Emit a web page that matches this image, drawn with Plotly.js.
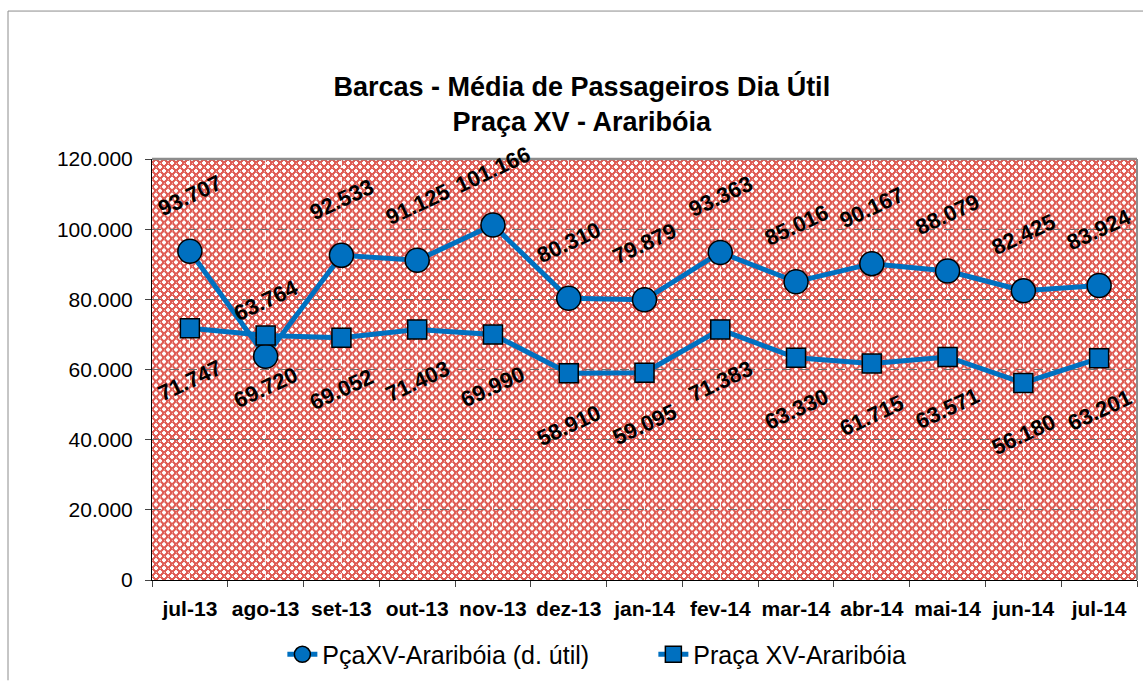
<!DOCTYPE html>
<html>
<head>
<meta charset="utf-8">
<script src="https://cdn.plot.ly/plotly-3.0.1.min.js"></script>
<style>html,body{margin:0;padding:0;background:#fff;overflow:hidden;}#chart{width:1143px;height:684px;}</style>
</head>
<body>
<div id="chart"></div>
<script>
// ---- data ----
const months = ['jul-13','ago-13','set-13','out-13','nov-13','dez-13','jan-14','fev-14','mar-14','abr-14','mai-14','jun-14','jul-14'];
const diaUtil = [93707, 63764, 92533, 91125, 101166, 80310, 79879, 93363, 85016, 90167, 88079, 82425, 83924];
const pracaXV = [71747, 69720, 69052, 71403, 69990, 58910, 59095, 71383, 63330, 61715, 63571, 56180, 63201];
const yTicks = [0, 20000, 40000, 60000, 80000, 100000, 120000];
const seriesNames = ['PçaXV-Araribóia (d. útil)', 'Praça XV-Araribóia'];

// ---- style ----
const FONT = "Arial, 'Liberation Sans', sans-serif";
const BLUE = 'rgb(0,112,192)';
const W = 1143, H = 684;
const M = {l:152, r:6, t:159, b:101};
const PW = W - M.l - M.r, PH = H - M.t - M.b;

function fmt(v){ return String(v).replace(/\B(?=(\d{3})+(?!\d))/g, '.'); }

// patterned plot background
const plus = (cx, cy) => `M${cx-1} ${cy-2}h2v4h-2zM${cx-2} ${cy-1}h4v2h-4z`;
const svg = `<svg xmlns="http://www.w3.org/2000/svg" width="${PW}" height="${PH}" shape-rendering="crispEdges">
<defs><pattern id="p" width="8" height="8" patternUnits="userSpaceOnUse">
<rect width="8" height="8" fill="#df5c54"/>
<path d="${plus(4,4)}${plus(0,0)}${plus(8,0)}${plus(0,8)}${plus(8,8)}" fill="#ffffff"/>
<path d="M4 0h1v1h-1zM0 4h1v1h-1z" fill="#f2b8b3"/>
</pattern></defs>
<rect width="${PW}" height="${PH}" fill="url(#p)"/></svg>`;
const bgSrc = 'data:image/svg+xml;charset=utf-8,' + encodeURIComponent(svg);

const traces = [
  {
    x: months, y: diaUtil, name: seriesNames[0], type: 'scatter', mode: 'lines+markers',
    line: {color: BLUE, width: 5},
    marker: {symbol: 'circle', size: 24, color: BLUE, line: {color: '#000', width: 1.5}},
    hoverinfo: 'skip'
  },
  {
    x: months, y: pracaXV, name: seriesNames[1], type: 'scatter', mode: 'lines+markers',
    line: {color: BLUE, width: 5},
    marker: {symbol: 'square', size: 19, color: BLUE, line: {color: '#000', width: 1.5}},
    hoverinfo: 'skip'
  },
  { // carrier for the centred vertical grid on xaxis2
    x: months, y: pracaXV, xaxis: 'x2', type: 'scatter', mode: 'lines',
    line: {width: 0}, opacity: 0, showlegend: false, hoverinfo: 'skip'
  }
];

const labelFont = {family: FONT, size: 22, color: '#000', weight: 'bold'};
const annotations = [];
months.forEach((m, i) => {
  annotations.push({x: m, y: diaUtil[i], xref: 'x', yref: 'y', text: fmt(diaUtil[i]),
    showarrow: false, textangle: -25, yshift: 56, font: labelFont});
  annotations.push({x: m, y: pracaXV[i], xref: 'x', yref: 'y', text: fmt(pracaXV[i]),
    showarrow: false, textangle: -25, yshift: -52, font: labelFont});
});

const layout = {
  width: W, height: H,
  margin: {l: M.l, r: M.r, t: M.t, b: M.b, pad: 0},
  paper_bgcolor: '#ffffff',
  plot_bgcolor: 'rgba(0,0,0,0)',
  separators: ',.',
  font: {family: FONT, color: '#000'},
  title: {
    text: 'Barcas - Média de Passageiros Dia Útil<br>Praça XV - Araribóia',
    font: {family: FONT, size: 27, color: '#000', weight: 'bold'},
    x: 0.509, xanchor: 'center', xref: 'container',
    y: 1 - 96/684, yanchor: 'middle', yref: 'container'
  },
  xaxis: {
    type: 'category', categoryorder: 'array', categoryarray: months,
    range: [-0.5, 12.5], fixedrange: true, tickangle: 0,
    tickson: 'boundaries', ticks: 'outside', ticklen: 6, tickcolor: '#444', tickwidth: 1,
    showline: true, linecolor: '#000', linewidth: 1,
    showgrid: false, zeroline: false,
    tickfont: {family: FONT, size: 21, color: '#000', weight: 'bold'},
    ticklabelstandoff: 10
  },
  xaxis2: {
    type: 'category', categoryorder: 'array', categoryarray: months,
    range: [-0.5, 12.5], overlaying: 'x', anchor: 'y', side: 'bottom',
    showgrid: true, gridcolor: 'rgba(255,255,255,0.85)', griddash: 'dash', gridwidth: 1,
    showticklabels: false, ticks: '', showline: false, zeroline: false
  },
  yaxis: {
    range: [0, 120000], tickvals: yTicks, tickformat: ',d', fixedrange: true,
    ticks: 'outside', ticklen: 6, tickcolor: '#444',
    showline: true, linecolor: '#000', linewidth: 1,
    showgrid: true, gridcolor: '#6e6e6e', griddash: 'dash', gridwidth: 1,
    zeroline: false,
    tickfont: {family: FONT, size: 21, color: '#000'},
    ticklabelstandoff: 8
  },
  legend: {
    orientation: 'h', x: 0.509, xanchor: 'center', y: -0.177, yanchor: 'middle',
    font: {family: FONT, size: 25, color: '#000'}, bgcolor: 'rgba(0,0,0,0)',
    itemwidth: 30, entrywidth: 326
  },
  images: [{
    source: bgSrc, xref: 'paper', yref: 'paper', x: 0, y: 1, sizex: 1, sizey: 1,
    sizing: 'stretch', xanchor: 'left', yanchor: 'top', layer: 'below'
  }],
  shapes: [
    {type: 'line', xref: 'paper', yref: 'paper', x0: (8 - M.l)/PW, x1: (8 - M.l)/PW,
     y0: -M.b/PH, y1: (M.t + PH - 10)/PH, line: {color: '#8c8c8c', width: 1}},
    {type: 'line', xref: 'paper', yref: 'paper', x0: (8 - M.l)/PW, x1: (W - M.l)/PW,
     y0: (M.t + PH - 10)/PH, y1: (M.t + PH - 10)/PH, line: {color: '#8c8c8c', width: 1}},
    {type: 'line', xref: 'paper', yref: 'paper', x0: 0, x1: 1, y0: 1, y1: 1,
     line: {color: '#8c8c8c', width: 2.5}},
    {type: 'line', xref: 'paper', yref: 'paper', x0: 1, x1: 1, y0: 0, y1: 1,
     line: {color: '#8c8c8c', width: 2}}
  ],
  annotations: annotations,
  hovermode: false
};

Plotly.newPlot('chart', traces, layout, {displayModeBar: false, staticPlot: true});
</script>
</body>
</html>
